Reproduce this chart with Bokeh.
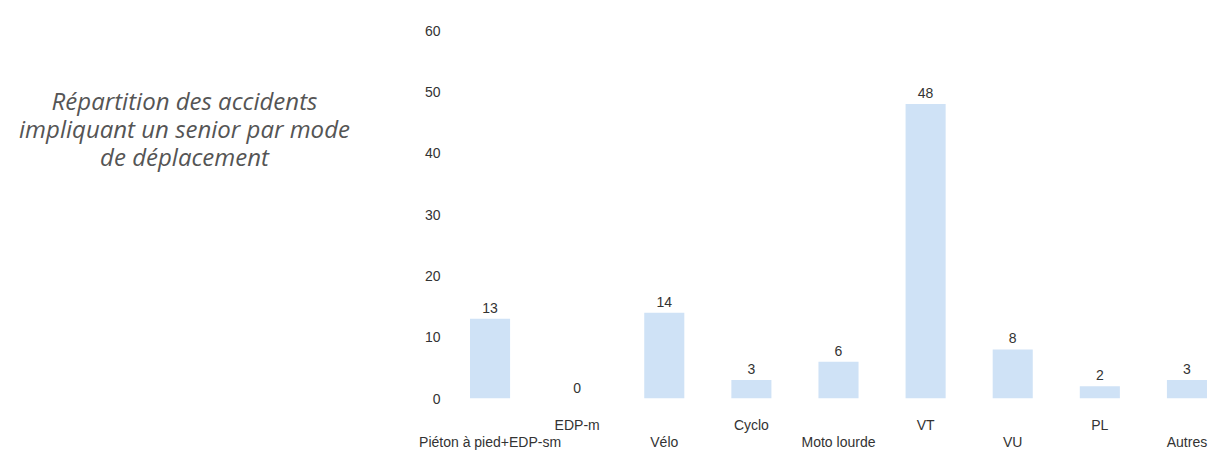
from bokeh.plotting import figure
from bokeh.models import ColumnDataSource, Range1d, FixedTicker, LinearAxis
from bokeh.layouts import row
from bokeh.core.properties import value
from bokeh.embed import file_html
from bokeh.resources import INLINE

categories = ["Piéton à pied+EDP-sm", "EDP-m", "Vélo", "Cyclo", "Moto lourde",
              "VT", "VU", "PL", "Autres"]
counts = [13, 0, 14, 3, 6, 48, 8, 2, 3]
y_ticks = [0, 10, 20, 30, 40, 50, 60]
title_lines = ["Répartition des accidents",
               "impliquant un senior par mode",
               "de déplacement"]

TOP = 30
BOTTOM_BORDER = 54
H = 452
FRAME_BOTTOM = H - BOTTOM_BORDER

# Left title panel (frame aligned with the bar chart's frame)
t = figure(width=400, height=H, output_backend="svg", toolbar_location=None,
           x_range=Range1d(0, 400), y_range=Range1d(FRAME_BOTTOM, TOP),
           min_border_left=0, min_border_right=0, min_border_top=TOP,
           min_border_bottom=BOTTOM_BORDER)
t.axis.visible = False
t.grid.visible = False
t.outline_line_color = None
tsrc = ColumnDataSource(dict(x=[184, 184, 184], y=[100, 128, 156], text=title_lines))
t.text(x="x", y="y", text="text", source=tsrc, text_align="center",
       text_baseline="middle", text_font=value("Open Sans"), text_font_style="italic",
       text_font_size="24px", text_color="#555555")

# Main bar chart: categories placed at positions 1..N
pos = list(range(1, len(categories) + 1))
p = figure(width=830, height=H, output_backend="svg", toolbar_location=None,
           x_range=Range1d(0.5, len(categories) + 0.5),
           y_range=Range1d(0, 60), x_axis_type=None,
           min_border_left=46, min_border_right=0, min_border_top=TOP,
           min_border_bottom=BOTTOM_BORDER)
p.outline_line_color = None
p.grid.visible = False

src = ColumnDataSource(dict(x=pos, cat=categories, val=counts,
                            lab=[str(v) for v in counts]))
p.vbar(x="x", top="val", width=0.46, source=src,
       fill_color="#cfe2f6", line_color=None)
p.text(x="x", y="val", text="lab", source=src, text_align="center",
       text_baseline="bottom", y_offset=-6, text_font=value("Liberation Sans"),
       text_font_size="14px", text_color="#333333")

p.yaxis.ticker = FixedTicker(ticks=y_ticks)
p.yaxis.axis_line_color = None
p.yaxis.major_tick_line_color = None
p.yaxis.minor_tick_line_color = None
p.yaxis.major_label_standoff = 0
p.yaxis.major_label_text_font = "Liberation Sans"
p.yaxis.major_label_text_font_size = "14px"
p.yaxis.major_label_text_color = "#333333"

upper_pos = [x for i, x in enumerate(pos) if i % 2 == 1]
lower_pos = [x for i, x in enumerate(pos) if i % 2 == 0]

ax1 = LinearAxis(ticker=FixedTicker(ticks=upper_pos),
                 major_label_overrides={x: categories[x - 1] for x in upper_pos},
                 major_label_standoff=12)
ax2 = LinearAxis(ticker=FixedTicker(ticks=lower_pos),
                 major_label_overrides={x: categories[x - 1] for x in lower_pos},
                 major_label_standoff=-8)
for ax in (ax1, ax2):
    ax.axis_line_color = None
    ax.major_tick_line_color = None
    ax.minor_tick_line_color = None
    ax.major_label_text_font = "Liberation Sans"
    ax.major_label_text_font_size = "14px"
    ax.major_label_text_color = "#333333"
p.add_layout(ax1, "below")
p.add_layout(ax2, "below")

layout = row(t, p)
open("out.html", "w").write(file_html(layout, INLINE))
